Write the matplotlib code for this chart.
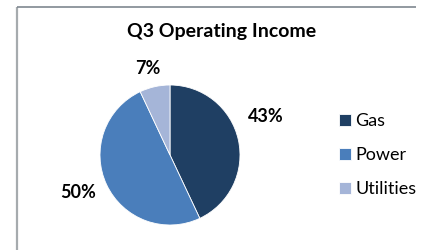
import matplotlib
matplotlib.use("Agg")
import matplotlib.pyplot as plt

plt.rcParams["font.family"] = ["Lato", "DejaVu Sans"]

title = "Q3 Operating Income"
segments = ["Gas", "Power", "Utilities"]
shares = [43, 50, 7]
colors = ["#1F3F63", "#4A7EBB", "#A5B5D8"]

W, H = 422, 250
fig = plt.figure(figsize=(W / 100, H / 100), dpi=100)
ax = fig.add_axes([0, 0, 1, 1])
ax.set_xlim(0, W)
ax.set_ylim(0, H)
ax.axis("off")

# chart-area frame: only top and left edges visible
ax.plot([16.5, 16.5], [0, H - 7], color="#A6ABAE", lw=1.6, solid_capstyle="butt")
ax.plot([16.5, 416], [H - 7, H - 7], color="#7F8790", lw=1.2, solid_capstyle="butt")

wedges, _ = ax.pie(shares, colors=colors, startangle=90, counterclock=False,
                   center=(170, H - 155), radius=70,
                   wedgeprops=dict(linewidth=0.6, edgecolor="white"))
ax.set_aspect("equal")
ax.set_xlim(0, W)
ax.set_ylim(0, H)

ax.text(222, H - 32, title, ha="center", va="center", fontsize=14, fontweight="bold")

label_pos = [(266, 117), (78, 193), (148, 69)]
for (x, y), v in zip(label_pos, shares):
    ax.text(x, H - y, f"{v}%", ha="center", va="center", fontsize=13, fontweight="bold")

ax.legend(wedges, segments, loc="center left", bbox_to_anchor=(339 / W, 1 - 155 / H),
          bbox_transform=fig.transFigure, frameon=False, fontsize=13,
          borderpad=0, borderaxespad=0,
          handlelength=0.65, handleheight=0.65, handletextpad=0.25, labelspacing=1.0)

fig.savefig("out.png", dpi=100, facecolor="white")
